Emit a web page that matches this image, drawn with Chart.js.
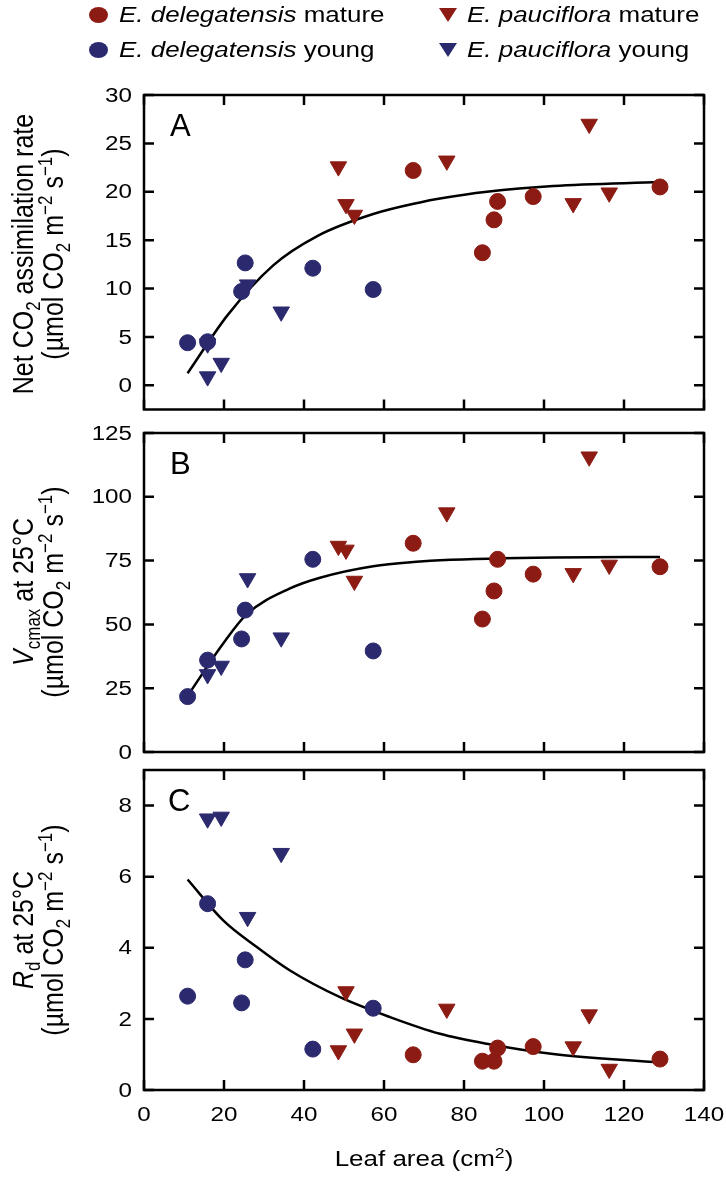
<!DOCTYPE html>
<html>
<head>
<meta charset="utf-8">
<script src="https://cdn.jsdelivr.net/npm/chart.js@4.4.0/dist/chart.umd.min.js"></script>
<style>
  body { margin: 0; background: #fff; font-family: 'Liberation Sans', Arial, sans-serif; }
  #wrap { position: relative; width: 726px; height: 1177px; overflow: hidden; }
  canvas { position: absolute; left: 0; }
  /* the figure text is a little wide, so it is stretched sideways */
  .ytitle { position: absolute; width: 360px; height: 28px; margin-left: -180px; margin-top: -14px;
            text-align: center; font-size: 25px; line-height: 28px; white-space: nowrap;
            transform: rotate(-90deg) scaleY(1.18); }
  .letter { position: absolute; font-size: 31px; line-height: 31px; }
  .xtitle { position: absolute; left: 144px; width: 560px; top: 1146px; text-align: center; font-size: 22px;
            line-height: 26px; transform: scaleX(1.18); }
  sub, sup { font-size: 68%; line-height: 0; }
  .leg { position: absolute; font-size: 22px; line-height: 24px; white-space: nowrap;
         transform: scaleX(1.18); transform-origin: 0 50%; }
  .dot { position: absolute; width: 19px; height: 16px; border-radius: 50%; }
  .tri { position: absolute; width: 0; height: 0; border-left: 9px solid transparent; border-right: 9px solid transparent; border-top: 14px solid; }
</style>
</head>
<body>
<div id="wrap">
  <canvas id="chartA" width="726" height="420" style="top:0px"></canvas>
  <canvas id="chartB" width="726" height="350" style="top:415px"></canvas>
  <canvas id="chartC" width="726" height="422" style="top:755px"></canvas>

  <!-- legend -->
  <div class="dot" style="left:89px;top:7px;background:#8c1c13"></div>
  <div class="leg" style="left:119px;top:3px"><i>E. delegatensis</i> mature</div>
  <div class="dot" style="left:89px;top:42px;background:#2c2a6e"></div>
  <div class="leg" style="left:119px;top:38px"><i>E. delegatensis</i> young</div>
  <div class="tri" style="left:439px;top:8px;border-top-color:#8c1c13"></div>
  <div class="leg" style="left:467px;top:3px"><i>E. pauciflora</i> mature</div>
  <div class="tri" style="left:439px;top:43px;border-top-color:#2c2a6e"></div>
  <div class="leg" style="left:467px;top:38px"><i>E. pauciflora</i> young</div>

  <div class="letter" style="left:170px;top:110px">A</div>
  <div class="letter" style="left:170px;top:448px">B</div>
  <div class="letter" style="left:168px;top:785px">C</div>

  <div class="ytitle" style="left:22px;top:254px">Net CO<sub>2</sub> assimilation rate</div>
  <div class="ytitle" style="left:52px;top:254px">(µmol CO<sub>2</sub> m<sup>−2</sup> s<sup>−1</sup>)</div>
  <div class="ytitle" style="left:22px;top:592px"><i>V</i><sub>cmax</sub> at 25°C</div>
  <div class="ytitle" style="left:52px;top:592px">(µmol CO<sub>2</sub> m<sup>−2</sup> s<sup>−1</sup>)</div>
  <div class="ytitle" style="left:22px;top:930px"><i>R</i><sub>d</sub> at 25°C</div>
  <div class="ytitle" style="left:52px;top:930px">(µmol CO<sub>2</sub> m<sup>−2</sup> s<sup>−1</sup>)</div>

  <div class="xtitle">Leaf area (cm<sup>2</sup>)</div>
</div>

<script>
// leaf area (cm2) of each group
const xDelMature = [67.3, 84.6, 87.5, 88.4, 97.3, 129.0];
const xDelYoung = [10.9, 15.9, 24.4, 25.3, 42.2, 57.3];
const xPauMature = [48.6, 50.5, 52.6, 75.7, 107.3, 111.3, 116.3];
const xPauYoung = [15.9, 19.3, 25.9, 34.3];
const xPauYoungA = [15.9, 15.9, 19.3, 25.9, 34.3]; // one sits behind a circle in A

// A : net CO2 assimilation
const aDelMature = [22.2, 13.7, 17.1, 19.0, 19.5, 20.5];
const aDelYoung = [4.4, 4.5, 9.7, 12.65, 12.1, 9.9];
const aPauMature = [22.6, 18.7, 17.6, 23.2, 18.8, 27.0, 19.9];
const aPauYoung = [4.3, 0.9, 2.3, 10.4, 7.6];

// B : Vcmax at 25C
const bDelMature = [81.8, 52.1, 63.1, 75.5, 69.7, 72.6];
const bDelYoung = [21.7, 36.0, 44.3, 55.6, 75.5, 39.6];
const bPauMature = [80.7, 79.2, 67.0, 93.8, 70.0, 115.7, 73.3];
const bPauYoung = [30.4, 33.7, 68.0, 44.8];

// C : Rd at 25C
const cDelMature = [0.99, 0.81, 0.81, 1.18, 1.22, 0.87];
const cDelYoung = [2.64, 5.24, 2.45, 3.66, 1.15, 2.30];
const cPauMature = [1.11, 2.77, 1.58, 2.28, 1.22, 2.12, 0.59];
const cPauYoung = [7.63, 7.68, 4.86, 6.66];

// fitted curves
const fitXA = [10.9, 20.8, 32.3, 43.2, 57.3, 69, 74, 85.7, 102.3, 129];
const fitYA = [1.25, 7.2, 12.4, 15.4, 17.7, 18.9, 19.3, 20.0, 20.6, 21.0];
const fitXB = [10.9, 19.8, 25.7, 36.5, 44, 57.3, 69, 74, 102.3, 129];
const fitYB = [22, 42.5, 54, 64.1, 68.3, 72.8, 74.6, 75.1, 76.2, 76.4];
const fitXC = [10.9, 19.8, 28.2, 36.5, 49, 61.5, 74, 85.7, 102.3, 129];
const fitYC = [5.92, 4.77, 4.02, 3.36, 2.61, 2.05, 1.58, 1.30, 1.01, 0.77];

// tick labels
const xTicks = [0, 20, 40, 60, 80, 100, 120, 140];
const yTicksA = [0, 5, 10, 15, 20, 25, 30];
const yTicksB = [0, 25, 50, 75, 100, 125];
const yTicksC = [0, 2, 4, 6, 8];

const red = '#8c1c13';
const blue = '#2c2a6e';
const tickFont = "20.5px 'Liberation Sans', Arial, sans-serif";
const stretch = 1.18;

function pts(xs, ys) {
  return xs.map((x, i) => ({ x: x, y: ys[i] }));
}

// frame, inward ticks on all four sides, and the (slightly wide) tick labels
const framePlugin = {
  id: 'frame',
  beforeDatasetsDraw(chart) {
    const { ctx, chartArea: a, scales } = chart;
    const tl = 10;
    ctx.save();
    ctx.strokeStyle = '#000';
    ctx.lineWidth = 2.5;
    ctx.beginPath();
    scales.x.ticks.forEach(t => {
      const px = scales.x.getPixelForValue(t.value);
      ctx.moveTo(px, a.top); ctx.lineTo(px, a.top + tl);
      ctx.moveTo(px, a.bottom); ctx.lineTo(px, a.bottom - tl);
    });
    scales.y.ticks.forEach(t => {
      const py = scales.y.getPixelForValue(t.value);
      ctx.moveTo(a.left, py); ctx.lineTo(a.left + tl, py);
      ctx.moveTo(a.right, py); ctx.lineTo(a.right - tl, py);
    });
    ctx.stroke();
    ctx.strokeRect(a.left, a.top, a.right - a.left, a.bottom - a.top);

    ctx.fillStyle = '#000';
    ctx.font = tickFont;
    ctx.textAlign = 'right';
    ctx.textBaseline = 'middle';
    scales.y.ticks.forEach(t => {
      ctx.save();
      ctx.translate(a.left - 12, scales.y.getPixelForValue(t.value) + 1);
      ctx.scale(stretch, 1);
      ctx.fillText(String(t.value), 0, 0);
      ctx.restore();
    });
    if (chart.options.plugins.frame.xLabels) {
      ctx.textAlign = 'center';
      ctx.textBaseline = 'alphabetic';
      scales.x.ticks.forEach(t => {
        ctx.save();
        ctx.translate(scales.x.getPixelForValue(t.value), a.bottom + 31);
        ctx.scale(stretch, 1);
        ctx.fillText(String(t.value), 0, 0);
        ctx.restore();
      });
    }
    ctx.restore();
  }
};

function makePanel(id, d, yMin, yMax, yTicks, padTop, padBottom, showX) {
  new Chart(document.getElementById(id), {
    type: 'scatter',
    data: {
      datasets: [
        { data: pts(d.xDM, d.dm), backgroundColor: red, borderColor: red, pointRadius: 8, pointStyle: 'circle', order: 1 },
        { data: pts(d.xDY, d.dy), backgroundColor: blue, borderColor: blue, pointRadius: 8, pointStyle: 'circle', order: 1 },
        { data: pts(d.xPM, d.pm), backgroundColor: red, borderColor: red, pointRadius: 9.5, pointStyle: 'triangle', rotation: 180, order: 2 },
        { data: pts(d.xPY, d.py), backgroundColor: blue, borderColor: blue, pointRadius: 9.5, pointStyle: 'triangle', rotation: 180, order: 2 },
        { data: pts(d.fx, d.fy), showLine: true, borderColor: '#000', borderWidth: 2.5, pointRadius: 0,
          cubicInterpolationMode: 'monotone', fill: false, order: 3 }
      ]
    },
    options: {
      responsive: false,
      animation: false,
      devicePixelRatio: 1,
      layout: { padding: { top: padTop, bottom: padBottom, left: 0, right: 22 } },
      plugins: { legend: { display: false }, tooltip: { enabled: false }, frame: { xLabels: showX } },
      scales: {
        x: {
          type: 'linear', min: 0, max: 140,
          grid: { display: false }, border: { display: false },
          afterBuildTicks: s => { s.ticks = xTicks.map(v => ({ value: v })); },
          afterFit: s => { s.height = showX ? 58 : 0; },
          ticks: { display: false }
        },
        y: {
          type: 'linear', min: yMin, max: yMax,
          grid: { display: false }, border: { display: false },
          afterBuildTicks: s => { s.ticks = yTicks.map(v => ({ value: v })); },
          afterFit: s => { s.width = 144; },
          ticks: { display: false }
        }
      }
    },
    plugins: [framePlugin]
  });
}

makePanel('chartA', { xDM: xDelMature, dm: aDelMature, xDY: xDelYoung, dy: aDelYoung,
  xPM: xPauMature, pm: aPauMature, xPY: xPauYoungA, py: aPauYoung, fx: fitXA, fy: fitYA },
  -2.5, 30, yTicksA, 95, 6, false);

makePanel('chartB', { xDM: xDelMature, dm: bDelMature, xDY: xDelYoung, dy: bDelYoung,
  xPM: xPauMature, pm: bPauMature, xPY: xPauYoung, py: bPauYoung, fx: fitXB, fy: fitYB },
  0, 125, yTicksB, 18, 13, false);

makePanel('chartC', { xDM: xDelMature, dm: cDelMature, xDY: xDelYoung, dy: cDelYoung,
  xPM: xPauMature, pm: cPauMature, xPY: xPauYoung, py: cPauYoung, fx: fitXC, fy: fitYC },
  0, 9, yTicksC, 15, 29, true);
</script>
</body>
</html>
